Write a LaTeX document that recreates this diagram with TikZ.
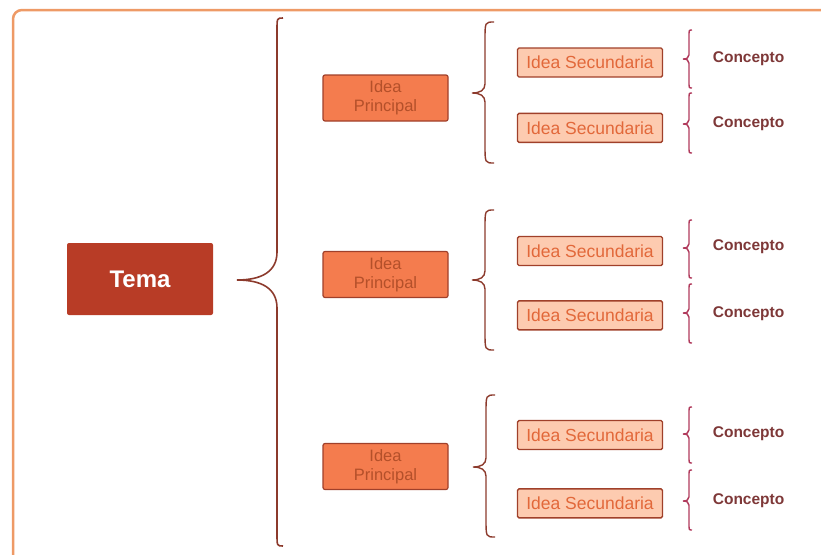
\documentclass[tikz,border=0pt]{standalone}
\usepackage{fontspec}
\setmainfont{Liberation Sans}
\usetikzlibrary{positioning}

\definecolor{marcoc}{HTML}{EE9A66}
\definecolor{temac}{HTML}{B83C26}
\definecolor{princc}{HTML}{F47C4E}
\definecolor{princt}{HTML}{B4502A}
\definecolor{secc}{HTML}{FDCBB0}
\definecolor{sect}{HTML}{E2683A}
\definecolor{bordec}{HTML}{A0402A}
\definecolor{llavec}{HTML}{8C3A2C}
\definecolor{llavecc}{HTML}{B03A5C}
\definecolor{concc}{HTML}{7E3838}

% llave: [style] x, top, bottom, tip y, curl  (depth in \ldepth)
\newcommand{\ldepth}{40}
\newcommand{\llave}[6][]{%
  \draw[#1] (#2+#6,#3) .. controls (#2,#3) .. (#2,#3+2*#6)
    -- (#2,#5-0.7*\ldepth) .. controls (#2,#5-0.2*\ldepth) and (#2-0.4*\ldepth,#5) .. (#2-\ldepth,#5)
    .. controls (#2-0.4*\ldepth,#5) and (#2,#5+0.2*\ldepth) .. (#2,#5+0.7*\ldepth)
    -- (#2,#4-2*#6) .. controls (#2,#4) .. (#2+#6,#4);}

\begin{document}
\begin{tikzpicture}[x=1pt,y=-1pt,semithick]
		\tikzstyle{marco}=[draw=marcoc,line width=2.5pt,rounded corners=9pt]
		\tikzstyle{tema}=[fill=temac,rounded corners=2pt,minimum width=146pt,minimum height=72pt,
		text=white,font=\fontsize{24}{26}\selectfont\bfseries]
		\tikzstyle{princ}=[fill=princc,draw=bordec,line width=1.2pt,rounded corners=2pt,minimum width=125pt,minimum height=46pt,
		inner sep=0pt,text=princt,align=center,font=\fontsize{16.5}{19}\selectfont]
		\tikzstyle{sec}=[fill=secc,draw=bordec,line width=1.4pt,rounded corners=1.5pt,minimum width=145pt,minimum height=29pt,
		inner sep=0pt,text=sect,font=\fontsize{17.5}{19}\selectfont]
		\tikzstyle{conc}=[text=concc,anchor=west,font=\fontsize{15.5}{17}\selectfont\bfseries]
		\tikzstyle{llave1}=[draw=llavec,line width=1.6pt]
		\tikzstyle{llave2}=[draw=llavec,line width=1.4pt]
		\tikzstyle{llave3}=[draw=llavecc,line width=1.4pt]
		
		\clip (0,0) rectangle (821,554);
		\draw[marco] (13,10) rectangle (840,580);
		
		\node[tema]  (tema) at (140,279)   {Tema};
		
		\node[princ] (p1) at (385.5,98)    {Idea\\Principal};
		\node[princ] (p2) at (385.5,274.5) {Idea\\Principal};
		\node[princ] (p3) at (385.5,466.5) {Idea\\Principal};
		
		\node[sec]   (s11) at (590,62.5)        {Idea Secundaria};
		\node[sec]   (s12) [below=35pt of s11]  {Idea Secundaria};
		\node[sec]   (s21) at (590,251)         {Idea Secundaria};
		\node[sec]   (s22) [below=34pt of s21]  {Idea Secundaria};
		\node[sec]   (s31) at (590,435)         {Idea Secundaria};
		\node[sec]   (s32) [below=38pt of s31]  {Idea Secundaria};
		
		\node[conc]  (c11) [right=46pt of s11,yshift=4pt]  {Concepto};
		\node[conc]  (c12) [right=46pt of s12,yshift=4pt]  {Concepto};
		\node[conc]  (c21) [right=46pt of s21,yshift=4pt]  {Concepto};
		\node[conc]  (c22) [right=46pt of s22,yshift=2pt]  {Concepto};
		\node[conc]  (c31) [right=46pt of s31,yshift=1pt]  {Concepto};
		\node[conc]  (c32) [right=46pt of s32,yshift=3pt]  {Concepto};
		
		% llaves
		\renewcommand{\ldepth}{40}
		\llave[llave1]{277}{18}{546}{280}{6}
		\renewcommand{\ldepth}{13}
		\llave[llave2]{485}{22}{163}{93}{9}
		\llave[llave2]{485}{210}{350}{280}{9}
		\llave[llave2]{486}{395}{537}{467}{9}
		\renewcommand{\ldepth}{6}
		\llave[llave3]{689}{30}{88}{59}{3}
		\llave[llave3]{689}{93}{153}{124}{3}
		\llave[llave3]{689}{220}{278}{248}{3}
		\llave[llave3]{689}{284}{343}{313}{3}
		\llave[llave3]{689}{407}{463}{434}{3}
		\llave[llave3]{689}{470}{530}{501}{3}
		
		\end{tikzpicture}
\end{document}
